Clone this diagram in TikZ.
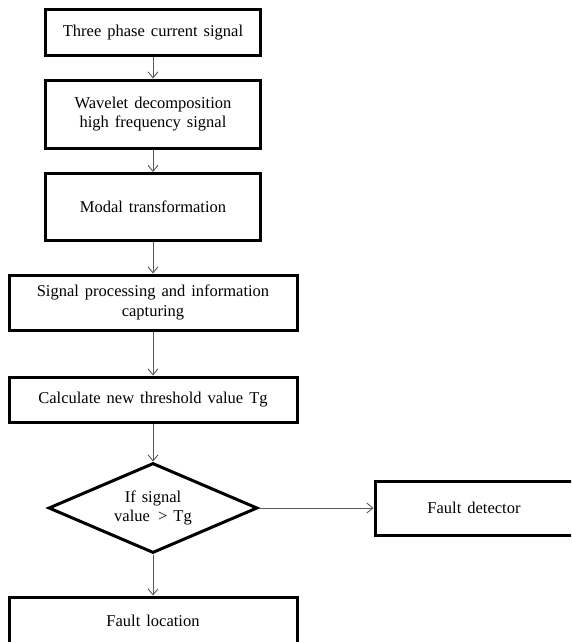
\documentclass[tikz,border=0pt]{standalone}
\usepackage{fontspec}
\setmainfont{Liberation Serif}
\usetikzlibrary{shapes.geometric,arrows.meta}
\newcommand\mywsp{\spaceskip=6pt\relax}
\begin{document}
\begin{tikzpicture}[x=1pt,y=-1pt,
 txt/.style={font=\fontsize{16.5}{19.5}\selectfont\mywsp},
 box/.style={txt,draw=black,line width=3pt,rectangle,inner sep=0pt,align=center},
 dia/.style={txt,draw=black,line width=3pt,diamond,inner sep=0pt,align=center,aspect=2.32},
 arr/.style={draw=black!65,line width=0.9pt,-{Straight Barb[length=6pt,width=10pt]}}
]
\useasboundingbox (0,0) rectangle (571,642);
\clip (0,0) rectangle (571,642);
\node[box,minimum width=215pt,minimum height=46pt] (b1) at (153,33) {Three phase current signal};
\node[box,minimum width=215pt,minimum height=68pt] (b2) at (153,114) {Wavelet decomposition\\high frequency signal};
\node[box,minimum width=215pt,minimum height=67pt] (b3) at (153,207) {Modal transformation};
\node[box,minimum width=288pt,minimum height=55pt] (b4) at (153,302.5) {Signal processing and information\\capturing};
\node[box,minimum width=288pt,minimum height=45pt] (b5) at (153,399.5) {Calculate new threshold value Tg};
\node[dia,minimum width=209pt,minimum height=90pt] (d) at (153,508) {If signal\\value\enspace{}> Tg};
\node[box,minimum width=198pt,minimum height=54pt] (fd) at (474,508) {Fault detector};
\node[box,minimum width=288pt,minimum height=47pt] (fl) at (153,620.5) {Fault location};
\draw[arr] (b1) -- (b2);
\draw[arr] (b2) -- (b3);
\draw[arr] (b3) -- (b4);
\draw[arr] (b4) -- (b5);
\draw[arr] (b5) -- (d);
\draw[arr] (d) -- (fd);
\draw[arr] (d) -- (fl);
\end{tikzpicture}
\end{document}
